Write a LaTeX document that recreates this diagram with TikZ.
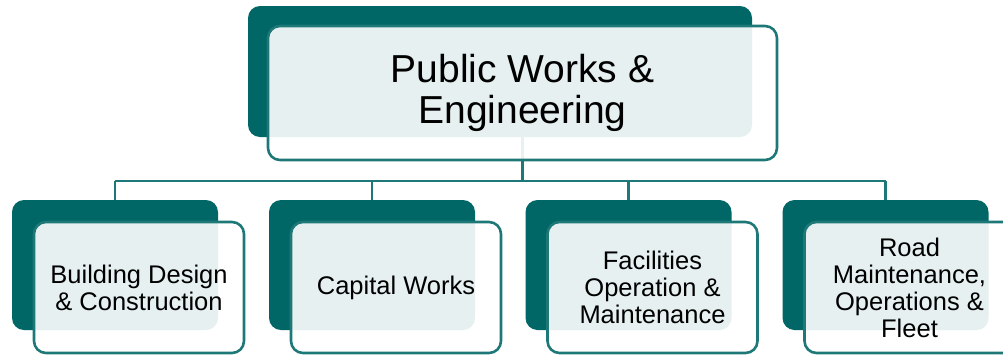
\documentclass[tikz,border=0pt]{standalone}
\usepackage{fontspec}
\setmainfont{Liberation Sans}
\usetikzlibrary{calc}
\definecolor{deepteal}{RGB}{0,102,102}
\definecolor{lineteal}{RGB}{30,120,120}

\tikzset{
  backbox/.style={fill=deepteal, rounded corners=12pt, inner sep=0pt, outer sep=0pt},
  frontbox/.style={draw=lineteal, line width=2.6pt, fill=white, fill opacity=0.9, text opacity=1,
    rounded corners=12pt, inner sep=0pt, outer sep=0pt, align=center, text=black},
  subtext/.style={font=\fontsize{25.5}{27}\selectfont},
  link/.style={draw=lineteal, line width=2.6pt}
}

\begin{document}
\begin{tikzpicture}[x=1pt,y=-1pt]
\useasboundingbox (0,0) rectangle (1003,354);
\clip (0,0) rectangle (1003,354);
% back panels
\node[backbox, minimum width=504pt, minimum height=131pt] (topback) at (500,71.5) {};
\foreach \i/\x in {1/115,2/372,3/628.5,4/885.5}
  \node[backbox, minimum width=206pt, minimum height=130pt] (back\i) at (\x,265) {};
\coordinate (topmid) at ($(topback.center)+(22.5,21.5)$);
% connectors
\coordinate (bus) at (0,181);
\draw[link] (topback.south -| topmid) -- (topmid |- bus);
\draw[link] (back1.north |- bus) -- (back4.north |- bus);
\foreach \i in {1,...,4}
  \draw[link] (back\i.north |- bus) -- (back\i.north);
% front panels
\node[frontbox, minimum width=509pt, minimum height=134pt, font=\fontsize{39}{41}\selectfont]
  (top) at (topmid) {Public Works \&\\Engineering};
\node[frontbox, subtext, minimum width=210pt, minimum height=131pt] (bdc) at ($(back1)+(24,22.5)$)
  {Building Design\\\& Construction};
\node[frontbox, subtext, minimum width=210pt, minimum height=131pt] (cw) at ($(back2)+(24,22.5)$)
  {Capital Works};
\node[frontbox, subtext, minimum width=210pt, minimum height=131pt] (fom) at ($(back3)+(24,22.5)$)
  {Facilities\\Operation \&\\Maintenance};
\node[frontbox, subtext, minimum width=210pt, minimum height=131pt] (rmof) at ($(back4)+(24,22.5)$)
  {Road\\Maintenance,\\Operations \&\\Fleet};
\end{tikzpicture}
\end{document}
